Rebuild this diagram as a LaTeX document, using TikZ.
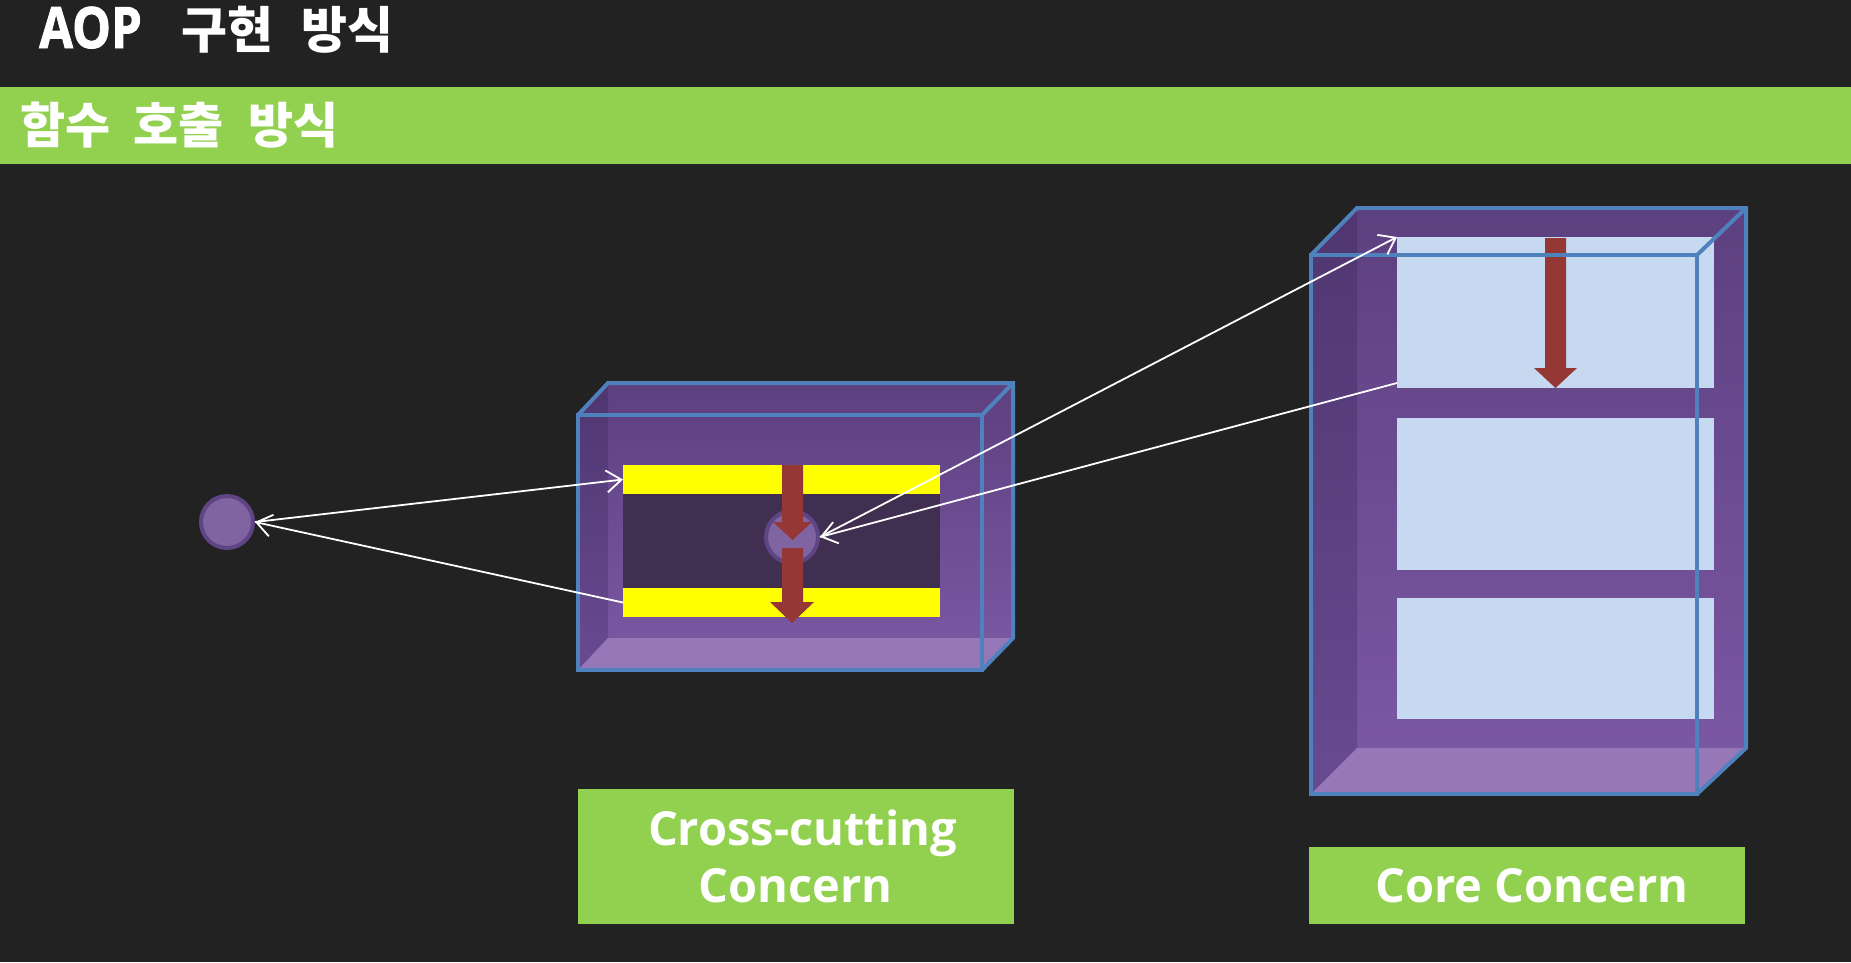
\documentclass[tikz,border=0pt]{standalone}
\usepackage{fontspec}
\usepackage{graphicx}
\setmainfont{Open Sans}
\newfontfamily\kr{Noto Sans CJK KR}
\newfontfamily\heavy{Open Sans}[FakeBold=1.6]
\usetikzlibrary{arrows.meta}
\definecolor{bg}{HTML}{222222}
\definecolor{grn}{HTML}{92D050}
\definecolor{edgeblue}{HTML}{4F81BD}
\definecolor{ptop}{HTML}{5D4080}
\definecolor{pbot}{HTML}{7D59A5}
\definecolor{ltop}{HTML}{4F3670}
\definecolor{lbot}{HTML}{684A91}
\definecolor{pfloor}{HTML}{9677B8}
\definecolor{band}{HTML}{402F50}
\definecolor{ylw}{HTML}{FFFF00}
\definecolor{redarr}{HTML}{953735}
\definecolor{ltblue}{HTML}{C6D9F1}
\definecolor{circfill}{HTML}{8064A2}
\definecolor{circring}{HTML}{5F4585}
\tikzset{
  edge/.style={draw=edgeblue, line width=4pt, line join=miter},
  block/.style={rectangle, inner sep=0pt, outer sep=0pt, draw=none},
  greenbox/.style={block, fill=grn, text=white, align=center,
    font=\fontsize{47}{57}\selectfont\bfseries},
  ybar/.style={block, fill=ylw, minimum width=317pt, minimum height=29pt},
  panel/.style={block, fill=ltblue, minimum width=317pt},
  dot/.style={circle, fill=circfill, draw=circring, line width=4pt, minimum size=52pt, inner sep=0pt},
  conn/.style={draw=white, line width=1.8pt, -{Straight Barb[length=15pt,width=22pt,line width=1.8pt]}},
  redfill/.style={fill=redarr}
}
\begin{document}
\begin{tikzpicture}[x=1pt,y=-1pt]
\fill[bg] (0,0) rectangle (1851,962);
\useasboundingbox (0,0) rectangle (1851,962);

% header
\node[block, fill=grn, minimum width=1851pt, minimum height=77pt] (hbar) at (925.5,125.5) {};
\node[anchor=base west, text=white, inner sep=0pt] (title) at (39,48)
  {\heavy\fontsize{57}{62}\selectfont\bfseries\scalebox{0.86}[1]{AOP}\hspace{40pt}{\kr\fontsize{50}{60}\selectfont\bfseries 구현\hspace{28pt}방식}};
\node[anchor=base west, text=white, inner sep=0pt] (sub) at (20,143)
  {\kr\fontsize{49}{58}\selectfont\bfseries 함수\hspace{23pt}호출\hspace{25pt}방식};

% ===== small cube =====
\shade[top color=ptop, bottom color=pbot] (578,415) -- (608,383) -- (1013,383) -- (1013,638) -- (982,670) -- (578,670) -- cycle;
\shade[top color=ltop, bottom color=lbot] (578,415) -- (608,383) -- (608,638) -- (578,670) -- cycle;
\fill[pfloor] (578,670) -- (608,638) -- (1013,638) -- (982,670) -- cycle;

\node[block, fill=band, minimum width=317pt, minimum height=94pt] (band) at (781.5,541) {};
\node[ybar] (topbar) at (781.5,479.5) {};
\node[ybar] (botbar) at (781.5,602.5) {};
\node[dot] (scirc) at (792,537) {};
\fill[redfill] (782,465) -- (803,465) -- (803,522) -- (812,522) -- (792.5,540) -- (773,522) -- (782,522) -- cycle;
\fill[redfill] (782,548) -- (803,548) -- (803,602) -- (814,602) -- (792,623) -- (770,602) -- (782,602) -- cycle;

\draw[edge] (578,415) rectangle (982,670);
\draw[edge] (578,415) -- (608,383) -- (1013,383) -- (1013,638) -- (982,670);
\draw[edge] (982,415) -- (1013,383);

% ===== big cube =====
\shade[top color=ptop, bottom color=pbot] (1311,255) -- (1357,208) -- (1746,208) -- (1746,748) -- (1697,794) -- (1311,794) -- cycle;
\shade[top color=ltop, bottom color=lbot] (1311,255) -- (1357,208) -- (1357,748) -- (1311,794) -- cycle;
\fill[pfloor] (1311,794) -- (1357,748) -- (1746,748) -- (1697,794) -- cycle;

\node[panel, minimum height=151pt] (p1) at (1555.5,312.5) {};
\node[panel, minimum height=152pt] (p2) at (1555.5,494) {};
\node[panel, minimum height=121pt] (p3) at (1555.5,658.5) {};
\fill[redfill] (1545,238) -- (1566,238) -- (1566,368) -- (1577,368) -- (1555.5,388) -- (1534,368) -- (1545,368) -- cycle;

\draw[edge] (1311,255) rectangle (1697,794);
\draw[edge] (1311,255) -- (1357,208) -- (1746,208) -- (1746,748) -- (1697,794);
\draw[edge] (1697,255) -- (1746,208);

% ===== left circle =====
\node[dot] (lcirc) at (227,522) {};

% ===== connectors =====
\draw[conn] (lcirc.east) -- (topbar.west);
\draw[conn] (botbar.west) -- (lcirc.east);
\draw[conn] (scirc.east) -- (p1.north west);
\draw[conn] ([yshift=5pt]p1.south west) -- (scirc.east);

% ===== labels =====
\node[greenbox, minimum width=436pt, minimum height=135pt] (cclabel) at (795.5,856.5) {\hspace{14pt}Cross-cutting\\Concern};
\node[greenbox, minimum width=436pt, minimum height=77pt] (corelabel) at (1527,885.5) {\hspace{10pt}Core Concern};
\end{tikzpicture}
\end{document}
